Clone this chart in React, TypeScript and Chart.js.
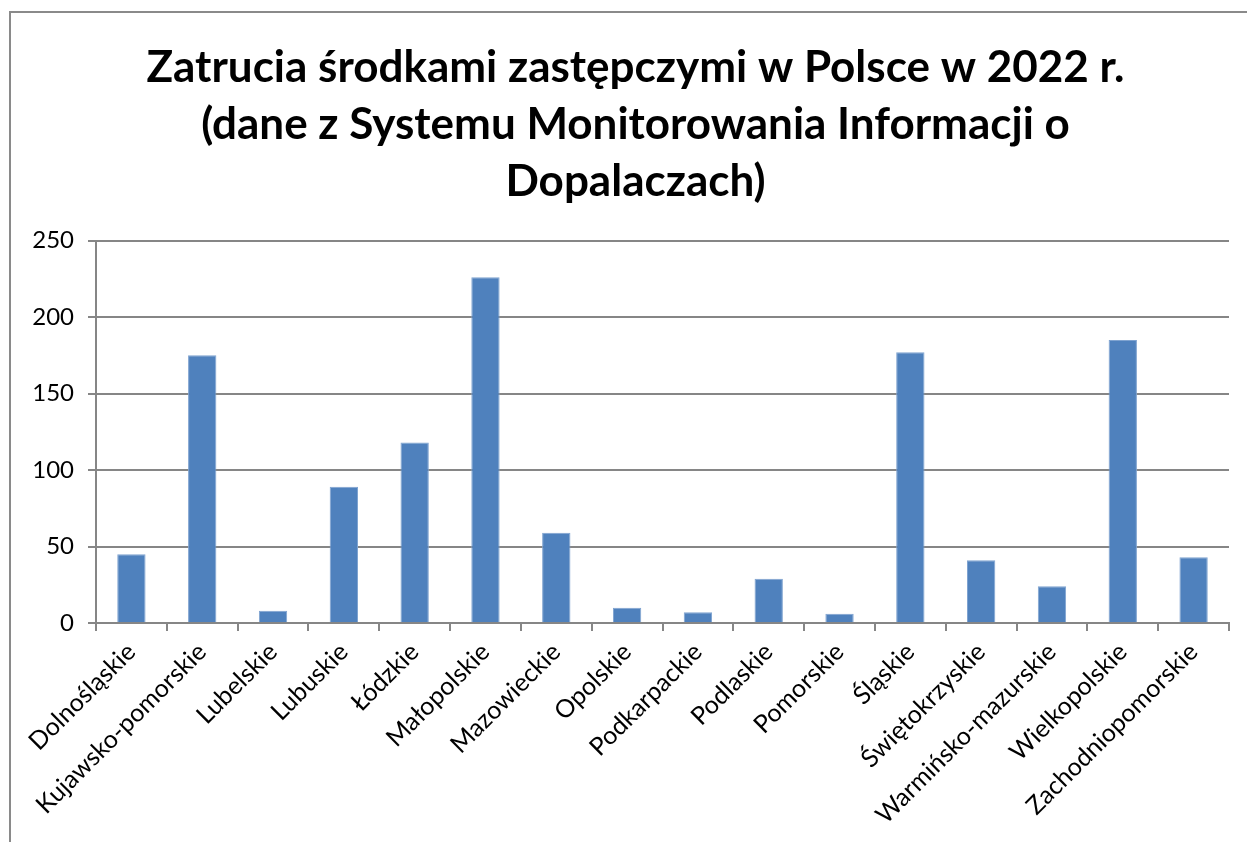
import React, { useEffect, useRef } from "react";
import { Chart, registerables } from "chart.js";

Chart.register(...registerables);

const categories = [
  "Dolnośląskie",
  "Kujawsko-pomorskie",
  "Lubelskie",
  "Lubuskie",
  "Łódzkie",
  "Małopolskie",
  "Mazowieckie",
  "Opolskie",
  "Podkarpackie",
  "Podlaskie",
  "Pomorskie",
  "Śląskie",
  "Świętokrzyskie",
  "Warmińsko-mazurskie",
  "Wielkopolskie",
  "Zachodniopomorskie",
];

const values = [45, 175, 8, 89, 118, 226, 59, 10, 7, 29, 6, 177, 41, 24, 185, 43];

const titleLines = [
  "Zatrucia środkami zastępczymi w Polsce w 2022 r.",
  "(dane z Systemu Monitorowania Informacji o",
  "Dopalaczach)",
];

const yMin = 0;
const yMax = 250;
const yStep = 50;

const shiftTitle = {
  id: "shiftTitle",
  afterLayout(chart: any) {
    if (chart.titleBlock) {
      chart.titleBlock.left += 18;
    }
  },
};

export default function App() {
  const ref = useRef<HTMLCanvasElement>(null);

  useEffect(() => {
    if (!ref.current) return;
    const gray = "#868686";
    const chart = new Chart(ref.current, {
      type: "bar",
      data: {
        labels: categories,
        datasets: [
          {
            data: values,
            backgroundColor: "#4F81BD",
            borderColor: "#7FA3D0",
            borderWidth: { left: 1, right: 1, top: 1, bottom: 0 },
            categoryPercentage: 1,
            barPercentage: 0.4,
          },
        ],
      },
      plugins: [shiftTitle],
      options: {
        responsive: false,
        animation: false,
        layout: { padding: { left: 24, right: 18, top: 0, bottom: 0 } },
        plugins: {
          legend: { display: false },
          tooltip: { enabled: false },
          title: {
            display: true,
            text: titleLines,
            color: "#000",
            font: { family: "Lato", size: 44, weight: "bold", lineHeight: 1.3 },
            padding: { top: 39, bottom: 30 },
          },
        },
        scales: {
          x: {
            grid: {
              offset: true,
              drawOnChartArea: false,
              color: gray,
              lineWidth: 2,
              tickLength: 8,
            },
            border: { color: gray, width: 2 },
            ticks: {
              color: "#000",
              font: { family: "Lato", size: 25 },
              minRotation: 45,
              maxRotation: 45,
              autoSkip: false,
              padding: 6,
            },
            afterFit: (scale: any) => {
              scale.height = 219;
            },
          },
          y: {
            min: yMin,
            max: yMax,
            ticks: {
              stepSize: yStep,
              color: "#000",
              font: { family: "Lato", size: 24 },
              padding: 14,
            },
            grid: { color: gray, lineWidth: 2, tickLength: 8 },
            border: { color: gray, width: 2 },
            afterFit: (scale: any) => {
              scale.width = 72;
            },
          },
        },
      },
    });
    return () => chart.destroy();
  }, []);

  return (
    <div
      style={{
        position: "fixed",
        left: 0,
        top: 0,
        width: 1247,
        height: 842,
        background: "#fff",
        overflow: "hidden",
      }}
    >
      <div
        style={{
          position: "absolute",
          left: 9,
          top: 11,
          width: 1300,
          height: 900,
          borderLeft: "2px solid #8a8a8a",
          borderTop: "2px solid #8a8a8a",
        }}
      />
      <canvas
        ref={ref}
        width={1247}
        height={842}
        style={{ position: "absolute", left: 0, top: 0 }}
      />
    </div>
  );
}
